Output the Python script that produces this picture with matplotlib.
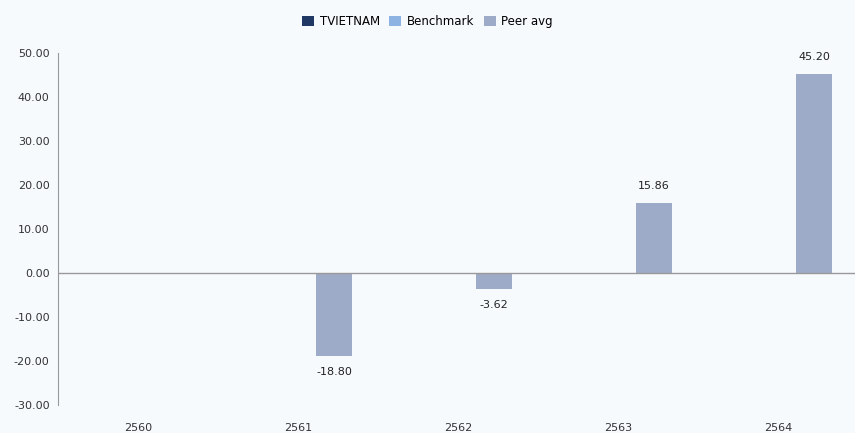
import matplotlib
matplotlib.use('Agg')
import matplotlib.pyplot as plt
import numpy as np

years = ['2560', '2561', '2562', '2563', '2564']
tvietnam = [np.nan, np.nan, np.nan, np.nan, np.nan]
benchmark = [np.nan, np.nan, np.nan, np.nan, np.nan]
peer_avg = [np.nan, -18.80, -3.62, 15.86, 45.20]

bg = '#f7fafd'
plt.rcParams['font.family'] = ['DejaVu Sans']

fig = plt.figure(figsize=(8.55, 4.33), dpi=100, facecolor=bg)
ax = fig.add_axes([0.0678, 0.0647, 0.9357, 0.8129], facecolor=bg)

x = np.arange(len(years))
w = 0.226
ax.bar(x - w, tvietnam, w, color='#1f3864', label='TVIETNAM')
ax.bar(x, benchmark, w, color='#8db3e2', label='Benchmark')
ax.bar(x + w, peer_avg, w, color='#9eabc8', label='Peer avg')

# value labels on the peer bars
for xi, v in zip(x + w, peer_avg):
    if np.isnan(v):
        continue
    if v >= 0:
        ax.text(xi, v + 2.8, f'{v:.2f}', ha='center', va='bottom', fontsize=8, color='#222222')
    else:
        ax.text(xi, v - 2.6, f'{v:.2f}', ha='center', va='top', fontsize=8, color='#222222')

ax.set_xlim(-0.5, 4.5)
ax.set_ylim(-30, 50)
ax.set_yticks(np.arange(-30, 51, 10))
ax.set_yticklabels([f'{t:.2f}' for t in np.arange(-30, 51, 10)], fontsize=8, color='#333333')
ax.set_xticks(x)
ax.set_xticklabels(years, fontsize=8, color='#333333')
ax.tick_params(axis='both', length=0)
ax.tick_params(axis='x', pad=13)
ax.tick_params(axis='y', pad=6)

for s in ['top', 'right', 'bottom']:
    ax.spines[s].set_visible(False)
ax.spines['left'].set_color('#999999')
ax.axhline(0, color='#999999', lw=1)

fig.legend(loc='upper center', bbox_to_anchor=(0.5, 0.99), ncol=3, frameon=False,
           fontsize=8.5, handlelength=1.0, handleheight=1.0, columnspacing=0.8, handletextpad=0.5)

fig.savefig('out.png', dpi=100, facecolor=bg)
